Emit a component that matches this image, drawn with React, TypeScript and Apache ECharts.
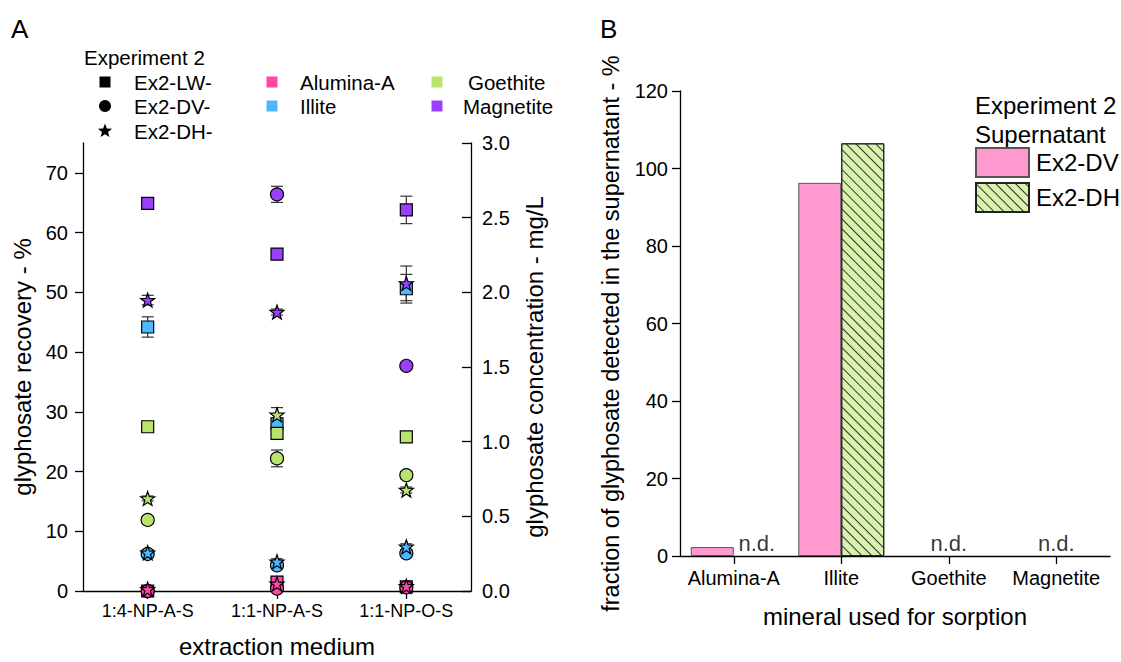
import React, { useEffect, useRef } from 'react';
import * as echarts from 'echarts';

// ---------- Panel A data ----------
const categoriesA = ['1:4-NP-A-S', '1:1-NP-A-S', '1:1-NP-O-S'];
const recoveryTicks = [0, 10, 20, 30, 40, 50, 60, 70];

const aluminaLW = [0.0, 1.5, 0.7];
const aluminaDV = [0.0, 0.4, 0.6];
const aluminaDH = [0.3, 1.2, 0.8];
const illiteLW = [44.2, 28.0, 50.6];
const illiteDV = [6.2, 4.3, 6.3];
const illiteDH = [6.4, 4.9, 7.4];
const goethiteLW = [27.5, 26.4, 25.8];
const goethiteDV = [11.9, 22.2, 19.4];
const goethiteDH = [15.5, 29.5, 16.9];
const magnetiteLW = [64.9, 56.4, 63.8];
const magnetiteDV = [null, 66.4, 37.7];
const magnetiteDH = [48.7, 46.7, 51.5];

const aluminaLWErr = [0.4, 0.8, 0.3];
const aluminaDVErr = [0.3, 0.3, 0.3];
const aluminaDHErr = [0.5, 0.5, 0.4];
const illiteLWErr = [1.7, 1.0, 2.4];
const illiteDVErr = [0.4, 0.4, 0.5];
const illiteDHErr = [0.5, 0.5, 0.5];
const goethiteLWErr = [0.6, 0.8, 0.5];
const goethiteDVErr = [0.5, 1.4, 0.6];
const goethiteDHErr = [0.4, 1.2, 0.5];
const magnetiteLWErr = [0.4, 0.5, 2.3];
const magnetiteDVErr = [null, 1.35, 0.5];
const magnetiteDHErr = [0.8, 0.5, 2.9];

// ---------- Panel B data ----------
const categoriesB = ['Alumina-A', 'Illite', 'Goethite', 'Magnetite'];
const supernatantDV = [2.3, 96.3, null, null];
const supernatantDH = [null, 106.5, null, null];
const notDetected = ['Alumina-A', 'Goethite', 'Magnetite'];

// ---------- styles ----------
const FONT = '"Liberation Sans", Arial, sans-serif';
const COLORS = {
  alumina: '#FF45A6',
  illite: '#4DB8FF',
  goethite: '#B8E46E',
  magnetite: '#9B3FFF',
};
const STAR_PATH =
  'path://M0,-10 L2.35,-3.24 L9.51,-3.09 L3.8,1.24 L5.88,8.09 L0,4.2 L-5.88,8.09 L-3.8,1.24 L-9.51,-3.09 L-2.35,-3.24 Z';

function starPoints(cx: number, cy: number, R: number, r: number) {
  const pts: number[][] = [];
  for (let i = 0; i < 10; i++) {
    const rad = i % 2 === 0 ? R : r;
    const a = -Math.PI / 2 + (i * Math.PI) / 5;
    pts.push([cx + rad * Math.cos(a), cy + rad * Math.sin(a)]);
  }
  return pts;
}

export default function App() {
  const ref = useRef<HTMLDivElement>(null);

  useEffect(() => {
    if (!ref.current) return;
    const chart = echarts.init(ref.current, undefined, { renderer: 'svg' });

    const minerals = [
      { key: 'Alumina-A', color: COLORS.alumina, LW: aluminaLW, DV: aluminaDV, DH: aluminaDH, LWe: aluminaLWErr, DVe: aluminaDVErr, DHe: aluminaDHErr },
      { key: 'Illite', color: COLORS.illite, LW: illiteLW, DV: illiteDV, DH: illiteDH, LWe: illiteLWErr, DVe: illiteDVErr, DHe: illiteDHErr },
      { key: 'Goethite', color: COLORS.goethite, LW: goethiteLW, DV: goethiteDV, DH: goethiteDH, LWe: goethiteLWErr, DVe: goethiteDVErr, DHe: goethiteDHErr },
      { key: 'Magnetite', color: COLORS.magnetite, LW: magnetiteLW, DV: magnetiteDV, DH: magnetiteDH, LWe: magnetiteLWErr, DVe: magnetiteDVErr, DHe: magnetiteDHErr },
    ];
    const exps = [
      { key: 'LW', symbol: 'rect', size: 12 },
      { key: 'DV', symbol: 'circle', size: 13 },
      { key: 'DH', symbol: STAR_PATH, size: 14 },
    ];

    const series: any[] = [];
    // error bars
    minerals.forEach((m: any) => {
      exps.forEach((e) => {
        const vals = m[e.key];
        const errs = m[e.key + 'e'];
        const data: any[] = [];
        vals.forEach((v: number | null, i: number) => {
          if (v != null && errs[i] != null) data.push([i, v, errs[i]]);
        });
        series.push({
          type: 'custom',
          name: m.key + ' ' + e.key + ' err',
          xAxisIndex: 0,
          yAxisIndex: 0,
          z: 1,
          clip: false,
          encode: { x: 0, y: 1 },
          data,
          renderItem: (params: any, api: any) => {
            const x = api.value(0);
            const v = api.value(1);
            const er = api.value(2);
            const top = api.coord([x, v + er]);
            const bot = api.coord([x, v - er]);
            const hw = 6;
            const st = { stroke: '#333', lineWidth: 1.2 };
            return {
              type: 'group',
              children: [
                { type: 'line', shape: { x1: top[0], y1: top[1], x2: bot[0], y2: bot[1] }, style: st },
                { type: 'line', shape: { x1: top[0] - hw, y1: top[1], x2: top[0] + hw, y2: top[1] }, style: st },
                { type: 'line', shape: { x1: bot[0] - hw, y1: bot[1], x2: bot[0] + hw, y2: bot[1] }, style: st },
              ],
            };
          },
        });
      });
    });
    // markers
    exps.forEach((e) => {
      minerals.forEach((m: any) => {
        const vals = m[e.key];
        series.push({
          type: 'scatter',
          name: m.key + ' ' + e.key,
          xAxisIndex: 0,
          yAxisIndex: 0,
          z: 3,
          symbol: e.symbol,
          symbolSize: e.size,
          itemStyle: { color: m.color, borderColor: '#000', borderWidth: 1.2, opacity: 1 },
          data: vals.map((v: number | null, i: number) => (v == null ? null : [i, v])),
        });
      });
    });

    // Panel B bars
    series.push({
      type: 'bar',
      name: 'Ex2-DV',
      xAxisIndex: 1,
      yAxisIndex: 2,
      barWidth: '40%',
      barGap: '0%',
      itemStyle: { color: '#FF99CF', borderColor: '#555', borderWidth: 1 },
      data: supernatantDV,
    });
    series.push({
      type: 'bar',
      name: 'Ex2-DH',
      xAxisIndex: 1,
      yAxisIndex: 2,
      barWidth: '40%',
      barGap: '0%',
      itemStyle: {
        color: '#DAF3AC',
        borderColor: '#222',
        borderWidth: 1,
        decal: {
          symbol: 'rect',
          symbolSize: 1,
          dashArrayX: [1, 0],
          dashArrayY: [1, 6],
          rotation: Math.PI / 4,
          color: '#333',
        },
      },
      data: supernatantDH,
    });
    series.push({
      type: 'scatter',
      name: 'n.d.',
      xAxisIndex: 1,
      yAxisIndex: 2,
      symbolSize: 0,
      silent: true,
      label: {
        show: true,
        position: 'top',
        distance: 2,
        formatter: 'n.d.',
        fontSize: 22,
        fontFamily: FONT,
        color: '#000',
      },
      data: notDetected.map((c) =>
        c === 'Alumina-A' ? { value: [c, 0], label: { offset: [23, 0] } } : { value: [c, 0] }
      ),
    });

    const axisLine = { show: true, lineStyle: { color: '#000', width: 1.3 } };
    const tick = { show: true, length: 8, lineStyle: { color: '#000', width: 1.3 } };
    const lbl = { color: '#000', fontSize: 20, fontFamily: FONT };
    const nameStyle = { color: '#000', fontSize: 24, fontFamily: FONT };

    const legendText = (x: number, y: number, t: string) => ({
      type: 'text',
      x,
      y,
      style: { text: t, fontSize: 20.5, fontFamily: FONT, fill: '#000', textVerticalAlign: 'middle' },
    });
    const sq = (cx: number, cy: number, color: string) => ({
      type: 'rect',
      shape: { x: cx - 5.5, y: cy - 5.5, width: 11, height: 11 },
      style: { fill: color },
    });

    chart.setOption({
      animation: false,
      backgroundColor: '#fff',
      grid: [
        { left: 83, top: 143, width: 388, height: 448, containLabel: false, outerBoundsMode: 'none' },
        { left: 680, top: 91, width: 430, height: 465, containLabel: false, outerBoundsMode: 'none' },
      ],
      xAxis: [
        {
          type: 'category',
          gridIndex: 0,
          data: categoriesA,
          boundaryGap: true,
          axisLine,
          axisTick: { ...tick, alignWithLabel: true },
          axisLabel: { ...lbl, fontSize: 18, margin: 11, interval: 0 },
          splitLine: { show: false },
          name: 'extraction medium',
          nameLocation: 'middle',
          nameGap: 43,
          nameTextStyle: nameStyle,
        },
        {
          type: 'category',
          gridIndex: 1,
          data: categoriesB,
          boundaryGap: true,
          axisLine,
          axisTick: { ...tick, alignWithLabel: true, interval: 0 },
          axisLabel: { ...lbl, margin: 12, interval: 0 },
          splitLine: { show: false },
          name: 'mineral used for sorption',
          nameLocation: 'middle',
          nameGap: 48,
          nameTextStyle: nameStyle,
        },
      ],
      yAxis: [
        {
          type: 'value',
          gridIndex: 0,
          min: 0,
          max: 75,
          interval: 10,
          axisLine,
          axisTick: { ...tick, customValues: recoveryTicks },
          axisLabel: { ...lbl, margin: 15, customValues: recoveryTicks },
          splitLine: { show: false },
          name: 'glyphosate recovery - %',
          nameLocation: 'middle',
          nameGap: 49,
          nameTextStyle: nameStyle,
        },
        {
          type: 'value',
          gridIndex: 0,
          position: 'right',
          min: 0,
          max: 3,
          interval: 0.5,
          axisLine,
          axisTick: { ...tick, inside: true, length: 9 },
          axisLabel: { ...lbl, margin: 11, formatter: (v: number) => v.toFixed(1) },
          splitLine: { show: false },
          name: 'glyphosate concentration - mg/L',
          nameLocation: 'middle',
          nameGap: 51,
          nameTextStyle: nameStyle,
        },
        {
          type: 'value',
          gridIndex: 1,
          min: 0,
          max: 120,
          interval: 20,
          axisLine,
          axisTick: tick,
          axisLabel: { ...lbl, margin: 12 },
          splitLine: { show: false },
          name: 'fraction of glyphosate detected in the supernatant - %',
          nameLocation: 'middle',
          nameGap: 57,
          nameTextStyle: { ...nameStyle, fontSize: 23.5, padding: [0, 20, 0, 0] },
        },
      ],
      legend: {
        data: ['Ex2-DV', 'Ex2-DH'],
        orient: 'vertical',
        left: 970,
        top: 142,
        itemWidth: 53,
        itemHeight: 29,
        itemGap: 4,
        icon: 'rect',
        selectedMode: false,
        textStyle: { color: '#000', fontSize: 24, fontFamily: FONT, padding: [0, 0, 0, 2] },
      },
      graphic: [
        { type: 'text', x: 11, y: 16, style: { text: 'A', fontSize: 26, fontFamily: FONT, fill: '#000' } },
        { type: 'text', x: 600, y: 16, style: { text: 'B', fontSize: 26, fontFamily: FONT, fill: '#000' } },
        legendText(84, 57, 'Experiment 2'),
        { type: 'rect', shape: { x: 99.5, y: 76.5, width: 11, height: 11 }, style: { fill: '#000' } },
        { type: 'circle', shape: { cx: 105, cy: 106, r: 6 }, style: { fill: '#000' } },
        { type: 'polygon', shape: { points: starPoints(105, 131, 7.5, 3.2) }, style: { fill: '#000' } },
        legendText(134, 82, 'Ex2-LW-'),
        legendText(134, 106, 'Ex2-DV-'),
        legendText(134, 131, 'Ex2-DH-'),
        sq(272, 82, COLORS.alumina),
        sq(272, 106, COLORS.illite),
        sq(437, 82, COLORS.goethite),
        sq(437, 106, COLORS.magnetite),
        legendText(300, 82, 'Alumina-A'),
        legendText(300, 106, 'Illite'),
        legendText(468, 82, 'Goethite'),
        legendText(463, 106, 'Magnetite'),
        {
          type: 'text',
          x: 975,
          y: 105,
          style: { text: 'Experiment 2', fontSize: 24, fontFamily: FONT, fill: '#000', textVerticalAlign: 'middle' },
        },
        {
          type: 'text',
          x: 975,
          y: 134,
          style: { text: 'Supernatant', fontSize: 24, fontFamily: FONT, fill: '#000', textVerticalAlign: 'middle' },
        },
      ],
      series,
    });

    return () => chart.dispose();
  }, []);

  return (
    <div
      ref={ref}
      style={{ position: 'absolute', left: 0, top: 0, width: 1121, height: 662, background: '#fff' }}
    />
  );
}
